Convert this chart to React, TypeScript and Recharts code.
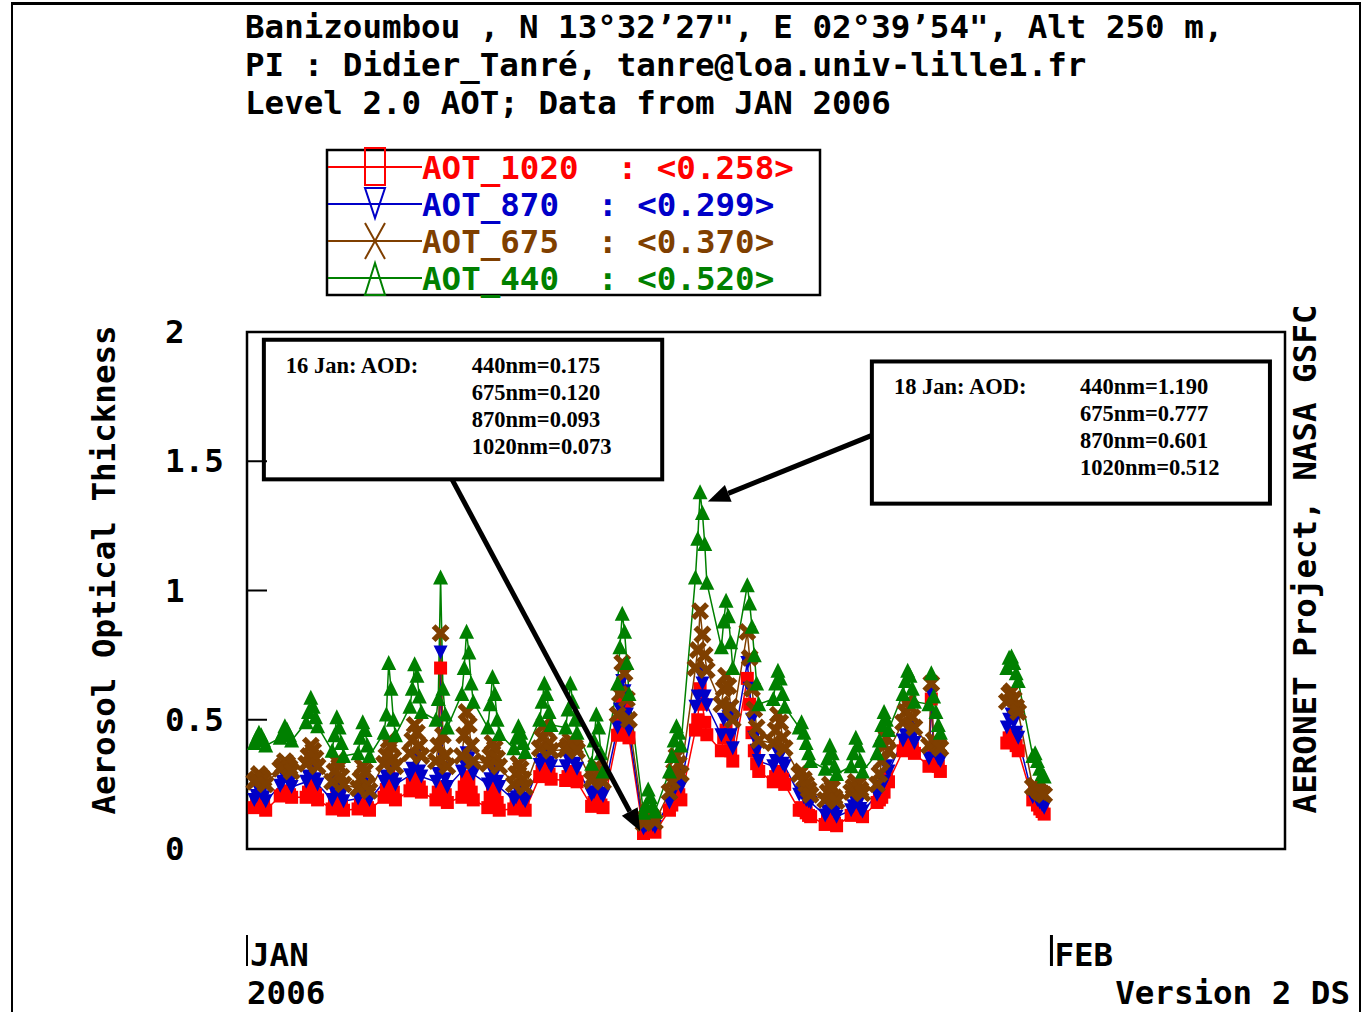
import React from 'react';
import { LineChart, Line, XAxis, YAxis, ReferenceArea, ReferenceLine } from 'recharts';

// Observation days in January 2006 (28 and 29 Jan have no level 2.0 data)
const DAYS = [1, 2, 3, 4, 5, 6, 7, 8, 9, 10, 11, 12, 13, 14, 15, 16, 17, 18, 19, 20, 21, 22, 23, 24, 25, 26, 27, 30, 31];
// time of each measurement as a fraction of the day
const HOURS = [0.28, 0.37, 0.46, 0.55, 0.64, 0.72];

const AOT_440 = [
  [0.41, 0.43, 0.45, 0.44, 0.42, 0.40],
  [0.43, 0.45, 0.475, 0.46, 0.44, 0.42],
  [0.49, 0.53, 0.585, 0.55, 0.51, 0.475],
  [0.38, 0.44, 0.51, 0.47, 0.41, 0.36],
  [0.37, 0.43, 0.49, 0.46, 0.40, 0.36],
  [0.45, 0.52, 0.72, 0.62, 0.50, 0.44],
  [0.55, 0.62, 0.715, 0.67, 0.59, 0.53],
  [0.50, 0.58, 1.05, 0.62, 0.52, 0.47],
  [0.60, 0.70, 0.84, 0.76, 0.64, 0.57],
  [0.47, 0.56, 0.665, 0.60, 0.50, 0.445],
  [0.39, 0.43, 0.475, 0.45, 0.41, 0.375],
  [0.50, 0.57, 0.64, 0.60, 0.53, 0.48],
  [0.47, 0.54, 0.64, 0.57, 0.50, 0.45],
  [0.33, 0.42, 0.52, 0.47, 0.37, 0.30],
  [0.64, 0.78, 0.91, 0.84, 0.72, 0.60],
  [0.14, 0.17, 0.23, 0.20, 0.165, 0.145],
  [0.30, 0.36, 0.42, 0.475, 0.45, 0.40],
  [1.05, 1.20, 1.38, 1.30, 1.18, 1.03],
  [0.78, 0.88, 0.96, 0.90, 0.80, 0.70],
  [1.02, 0.95, 0.86, 0.75, 0.64, 0.56],
  [0.58, 0.64, 0.69, 0.66, 0.60, 0.55],
  [0.47, 0.49, 0.45, 0.41, 0.37, 0.34],
  [0.31, 0.35, 0.40, 0.37, 0.32, 0.29],
  [0.32, 0.37, 0.43, 0.40, 0.34, 0.30],
  [0.37, 0.42, 0.48, 0.53, 0.50, 0.46],
  [0.60, 0.65, 0.69, 0.67, 0.62, 0.57],
  [0.56, 0.68, 0.59, 0.53, 0.48, 0.45],
  [0.70, 0.74, 0.745, 0.72, 0.68, 0.65],
  [0.36, 0.37, 0.34, 0.31, 0.29, 0.28],
];

const AOT_675 = [
  [0.26, 0.27, 0.29, 0.28, 0.27, 0.25],
  [0.31, 0.32, 0.34, 0.33, 0.315, 0.30],
  [0.33, 0.36, 0.40, 0.38, 0.35, 0.32],
  [0.26, 0.30, 0.34, 0.32, 0.28, 0.25],
  [0.235, 0.27, 0.32, 0.30, 0.25, 0.225],
  [0.33, 0.36, 0.42, 0.40, 0.35, 0.32],
  [0.37, 0.42, 0.48, 0.45, 0.40, 0.36],
  [0.34, 0.40, 0.835, 0.44, 0.36, 0.32],
  [0.36, 0.44, 0.53, 0.48, 0.40, 0.34],
  [0.33, 0.36, 0.41, 0.39, 0.35, 0.32],
  [0.25, 0.29, 0.33, 0.31, 0.27, 0.24],
  [0.39, 0.43, 0.48, 0.46, 0.41, 0.38],
  [0.385, 0.40, 0.42, 0.41, 0.395, 0.38],
  [0.265, 0.28, 0.32, 0.30, 0.27, 0.26],
  [0.52, 0.60, 0.72, 0.68, 0.58, 0.50],
  [0.10, 0.12, 0.145, 0.13, 0.12, 0.105],
  [0.22, 0.26, 0.30, 0.36, 0.33, 0.29],
  [0.70, 0.77, 0.92, 0.83, 0.75, 0.692],
  [0.56, 0.62, 0.67, 0.63, 0.55, 0.50],
  [0.84, 0.74, 0.62, 0.54, 0.47, 0.42],
  [0.41, 0.46, 0.52, 0.49, 0.43, 0.39],
  [0.29, 0.30, 0.27, 0.25, 0.23, 0.21],
  [0.19, 0.22, 0.25, 0.235, 0.20, 0.185],
  [0.22, 0.24, 0.26, 0.25, 0.23, 0.215],
  [0.25, 0.29, 0.34, 0.40, 0.43, 0.38],
  [0.49, 0.53, 0.57, 0.55, 0.51, 0.47],
  [0.40, 0.64, 0.42, 0.41, 0.40, 0.39],
  [0.57, 0.60, 0.61, 0.58, 0.55, 0.53],
  [0.24, 0.245, 0.23, 0.22, 0.215, 0.21],
];

const AOT_870 = [
  [0.19, 0.205, 0.225, 0.215, 0.20, 0.185],
  [0.245, 0.26, 0.28, 0.27, 0.255, 0.24],
  [0.26, 0.28, 0.32, 0.30, 0.27, 0.25],
  [0.19, 0.22, 0.26, 0.24, 0.21, 0.185],
  [0.195, 0.215, 0.25, 0.235, 0.205, 0.19],
  [0.26, 0.28, 0.33, 0.31, 0.27, 0.25],
  [0.285, 0.31, 0.36, 0.34, 0.30, 0.28],
  [0.26, 0.29, 0.76, 0.31, 0.27, 0.24],
  [0.30, 0.33, 0.37, 0.35, 0.31, 0.29],
  [0.25, 0.27, 0.30, 0.29, 0.26, 0.24],
  [0.19, 0.20, 0.22, 0.215, 0.195, 0.185],
  [0.325, 0.345, 0.37, 0.36, 0.335, 0.32],
  [0.32, 0.35, 0.39, 0.37, 0.33, 0.31],
  [0.21, 0.22, 0.245, 0.235, 0.215, 0.205],
  [0.47, 0.54, 0.65, 0.61, 0.52, 0.46],
  [0.08, 0.09, 0.11, 0.10, 0.093, 0.085],
  [0.18, 0.21, 0.25, 0.29, 0.27, 0.24],
  [0.55, 0.59, 0.68, 0.64, 0.59, 0.556],
  [0.44, 0.50, 0.54, 0.51, 0.44, 0.39],
  [0.72, 0.62, 0.50, 0.43, 0.38, 0.34],
  [0.32, 0.34, 0.37, 0.36, 0.33, 0.32],
  [0.21, 0.22, 0.20, 0.19, 0.185, 0.18],
  [0.13, 0.145, 0.165, 0.155, 0.14, 0.125],
  [0.15, 0.165, 0.18, 0.175, 0.155, 0.145],
  [0.21, 0.225, 0.24, 0.26, 0.32, 0.30],
  [0.42, 0.44, 0.47, 0.46, 0.43, 0.41],
  [0.35, 0.60, 0.38, 0.37, 0.35, 0.34],
  [0.47, 0.50, 0.52, 0.49, 0.45, 0.43],
  [0.20, 0.21, 0.19, 0.18, 0.17, 0.16],
];

const AOT_1020 = [
  [0.16, 0.175, 0.20, 0.19, 0.17, 0.15],
  [0.205, 0.21, 0.225, 0.22, 0.21, 0.20],
  [0.20, 0.22, 0.25, 0.235, 0.21, 0.19],
  [0.155, 0.175, 0.20, 0.19, 0.165, 0.15],
  [0.155, 0.17, 0.19, 0.18, 0.16, 0.15],
  [0.20, 0.23, 0.28, 0.26, 0.22, 0.19],
  [0.225, 0.25, 0.28, 0.27, 0.24, 0.22],
  [0.19, 0.22, 0.70, 0.24, 0.21, 0.18],
  [0.20, 0.24, 0.28, 0.26, 0.22, 0.19],
  [0.16, 0.20, 0.25, 0.23, 0.18, 0.15],
  [0.155, 0.17, 0.19, 0.18, 0.165, 0.15],
  [0.28, 0.30, 0.32, 0.31, 0.29, 0.27],
  [0.265, 0.28, 0.30, 0.29, 0.275, 0.26],
  [0.165, 0.18, 0.20, 0.19, 0.17, 0.16],
  [0.44, 0.49, 0.58, 0.55, 0.47, 0.43],
  [0.06, 0.07, 0.09, 0.08, 0.073, 0.065],
  [0.15, 0.17, 0.20, 0.225, 0.21, 0.19],
  [0.46, 0.50, 0.62, 0.56, 0.49, 0.442],
  [0.38, 0.43, 0.46, 0.44, 0.38, 0.34],
  [0.66, 0.56, 0.45, 0.38, 0.33, 0.30],
  [0.26, 0.28, 0.30, 0.29, 0.27, 0.25],
  [0.15, 0.16, 0.15, 0.14, 0.13, 0.125],
  [0.095, 0.11, 0.125, 0.12, 0.10, 0.09],
  [0.13, 0.145, 0.16, 0.155, 0.135, 0.125],
  [0.18, 0.19, 0.20, 0.22, 0.28, 0.26],
  [0.38, 0.40, 0.43, 0.42, 0.39, 0.37],
  [0.32, 0.58, 0.36, 0.34, 0.32, 0.30],
  [0.41, 0.43, 0.445, 0.42, 0.40, 0.38],
  [0.19, 0.20, 0.17, 0.155, 0.145, 0.135],
];

const Y_TICKS = [0, 0.5, 1, 1.5, 2];
const MONTH_TICKS = [0, 31];
const MONTH_LABELS = ['JAN', 'FEB'];
const YEAR_LABEL = '2006';

const TITLE_LINES = [
  'Banizoumbou , N 13°32’27", E 02°39’54", Alt 250 m,',
  'PI : Didier_Tanré, tanre@loa.univ-lille1.fr',
  'Level 2.0 AOT; Data from JAN 2006',
];

const SERIES = [
  { name: 'AOT_1020', color: '#ff0000', values: AOT_1020, mean: '0.258', marker: 'square' },
  { name: 'AOT_870', color: '#0000c8', values: AOT_870, mean: '0.299', marker: 'tridown' },
  { name: 'AOT_675', color: '#7f3f00', values: AOT_675, mean: '0.370', marker: 'cross' },
  { name: 'AOT_440', color: '#008000', values: AOT_440, mean: '0.520', marker: 'triup' },
];

// daily means written in the call-out boxes
const NOTES = [
  { title: '16 Jan: AOD:', lines: ['440nm=0.175', '675nm=0.120', '870nm=0.093', '1020nm=0.073'], box: [0.65, 16.0, 1.97, 1.43], arrow: [7.9, 1.43, 15.15, 0.07] },
  { title: '18 Jan: AOD:', lines: ['440nm=1.190', '675nm=0.777', '870nm=0.601', '1020nm=0.512'], box: [24.08, 39.42, 1.886, 1.336], arrow: [24.08, 1.6, 17.76, 1.344] },
];

const MONO = '"DejaVu Sans Mono", "Liberation Mono", monospace';
const SERIF = '"Liberation Serif", "Times New Roman", serif';
const FS = 32.5;

const buildPoints = (values: number[][]) => {
  const pts: { t: number; v: number | null }[] = [];
  DAYS.forEach((day, i) => {
    if (i > 0 && day - DAYS[i - 1] > 1) pts.push({ t: day - 1, v: null });
    HOURS.forEach((h, j) => pts.push({ t: day - 1 + h, v: values[i][j] }));
  });
  return pts;
};

const markerShape = (marker: string, cx: number, cy: number, color: string, key?: string) => {
  switch (marker) {
    case 'square':
      return <rect key={key} x={cx - 6.5} y={cy - 6.5} width={13} height={13} fill={color} />;
    case 'tridown':
      return <polygon key={key} points={`${cx - 7},${cy - 7} ${cx + 7},${cy - 7} ${cx},${cy + 7}`} fill={color} />;
    case 'cross':
      return (
        <path key={key} d={`M${cx - 7},${cy - 7}L${cx + 7},${cy + 7}M${cx + 7},${cy - 7}L${cx - 7},${cy + 7}`} stroke={color} strokeWidth={5.5} />
      );
    default:
      return <polygon key={key} points={`${cx},${cy - 8} ${cx + 7.5},${cy + 7} ${cx - 7.5},${cy + 7}`} fill={color} />;
  }
};

const ValueTick = (props: any) => {
  const { x, y, payload } = props;
  const v = payload.value;
  return (
    <g>
      {v > 0 && v < 2 && <line x1={x} x2={x + 20} y1={y} y2={y} stroke="#000" strokeWidth={2} />}
      <text x={x - 82} y={y + 11} fontFamily={MONO} fontWeight="bold" fontSize={FS} fill="#000">
        {String(v)}
      </text>
    </g>
  );
};

const MonthTick = (props: any) => {
  const { x, y, payload } = props;
  const i = MONTH_TICKS.indexOf(payload.value);
  return (
    <g>
      <line x1={x} x2={x} y1={y + 86} y2={y + 117} stroke="#000" strokeWidth={i === 0 ? 2 : 3} />
      <text x={x + 3} y={y + 117} fontFamily={MONO} fontWeight="bold" fontSize={FS} fill="#000">
        {MONTH_LABELS[i]}
      </text>
      {i === 0 && (
        <text x={x} y={y + 155} fontFamily={MONO} fontWeight="bold" fontSize={FS} fill="#000">
          {YEAR_LABEL}
        </text>
      )}
    </g>
  );
};

const noteBox = (note: typeof NOTES[number]) => (props: any) => {
  const { x, y, width, height } = props;
  return (
    <g>
      <rect x={x} y={y} width={width} height={height} fill="#fff" stroke="#000" strokeWidth={4} />
      <text x={x + 22} y={y + 33} fontFamily={SERIF} fontWeight="bold" fontSize={22.5} fill="#000">
        {note.title}
      </text>
      {note.lines.map((l, i) => (
        <text key={l} x={x + 208} y={y + 33 + i * 27} fontFamily={SERIF} fontWeight="bold" fontSize={22.5} fill="#000">
          {l}
        </text>
      ))}
    </g>
  );
};

const Arrow = (props: any) => {
  const { x1, y1, x2, y2 } = props;
  const a = Math.atan2(y2 - y1, x2 - x1);
  const len = 22;
  const w = 9;
  const bx = x2 - len * Math.cos(a);
  const by = y2 - len * Math.sin(a);
  const px = -Math.sin(a) * w;
  const py = Math.cos(a) * w;
  return (
    <g>
      <line x1={x1} y1={y1} x2={bx} y2={by} stroke="#000" strokeWidth={5} />
      <polygon points={`${x2},${y2} ${bx + px},${by + py} ${bx - px},${by - py}`} fill="#000" />
    </g>
  );
};

const LegendBox = () => (
  <g>
    <rect x={327} y={150} width={493} height={145} fill="none" stroke="#000" strokeWidth={2.5} />
    {SERIES.map((s, i) => {
      const cy = 167 + i * 37;
      const cx = 375;
      let mk;
      if (s.marker === 'square') mk = <rect x={cx - 10} y={cy - 19} width={20} height={37} fill="none" stroke={s.color} strokeWidth={2} />;
      else if (s.marker === 'tridown') mk = <polygon points={`${cx - 10},${cy - 16} ${cx + 10},${cy - 16} ${cx},${cy + 14}`} fill="none" stroke={s.color} strokeWidth={2} />;
      else if (s.marker === 'cross')
        mk = <path d={`M${cx - 10},${cy - 18}L${cx + 10},${cy + 18}M${cx + 10},${cy - 18}L${cx - 10},${cy + 18}`} stroke={s.color} strokeWidth={2} />;
      else mk = <polygon points={`${cx},${cy - 15} ${cx + 10},${cy + 17} ${cx - 10},${cy + 17}`} fill="none" stroke={s.color} strokeWidth={2} />;
      return (
        <g key={s.name}>
          <line x1={328} x2={422} y1={cy} y2={cy} stroke={s.color} strokeWidth={2} />
          {mk}
          <text x={422} y={cy + 12} fontFamily={MONO} fontWeight="bold" fontSize={FS} fill={s.color} xmlSpace="preserve" style={{ whiteSpace: 'pre' }}>
            {`${s.name}  : <${s.mean}>`}
          </text>
        </g>
      );
    })}
  </g>
);

export default function App() {
  return (
    <div style={{ position: 'absolute', left: 0, top: 0, width: 1362, height: 1012, background: '#fff', overflow: 'hidden' }}>
      <div style={{ position: 'absolute', left: 11, top: 2, width: 1346, height: 1030, borderTop: '3px solid #000', borderLeft: '2px solid #000', borderRight: '2px solid #000' }} />
      <div style={{ position: 'absolute', left: 0, top: 0 }}>
        <LineChart width={1362} height={1012} margin={{ top: 332, right: 77, bottom: 0, left: 165 }}>
          <XAxis
            type="number"
            dataKey="t"
            domain={[0, 40]}
            ticks={MONTH_TICKS}
            interval={0}
            height={163}
            axisLine={false}
            tickLine={false}
            tickSize={0}
            tickMargin={0}
            tick={<MonthTick />}
          />
          <YAxis
            type="number"
            domain={[0, 2]}
            ticks={Y_TICKS}
            interval={0}
            width={82}
            axisLine={false}
            tickLine={false}
            tickSize={0}
            tickMargin={0}
            tick={<ValueTick />}
          />
          <ReferenceArea x1={0} x2={40} y1={0} y2={2} fill="none" stroke="#000" strokeWidth={2.5} fillOpacity={0} />
          {SERIES.map((s) => (
            <Line
              key={s.name}
              data={buildPoints(s.values)}
              dataKey="v"
              type="linear"
              stroke={s.color}
              strokeWidth={1.5}
              connectNulls={false}
              isAnimationActive={false}
              activeDot={false}
              dot={(p: any) => (p.cx == null || p.cy == null || p.value == null ? <g key={`${s.name}-${p.index}`} /> : markerShape(s.marker, p.cx, p.cy, s.color, `${s.name}-${p.index}`))}
            />
          ))}
          {NOTES.map((n) => (
            <ReferenceArea key={n.title} x1={n.box[0]} x2={n.box[1]} y1={n.box[3]} y2={n.box[2]} shape={noteBox(n)} />
          ))}
          {NOTES.map((n) => (
            <ReferenceLine
              key={`arrow-${n.title}`}
              segment={[
                { x: n.arrow[0], y: n.arrow[1] },
                { x: n.arrow[2], y: n.arrow[3] },
              ]}
              shape={Arrow}
              zIndex={2500}
            />
          ))}
        </LineChart>
      </div>
      <svg width={1362} height={1012} style={{ position: 'absolute', left: 0, top: 0, pointerEvents: 'none' }}>
        {TITLE_LINES.map((l, i) => (
          <text key={l} x={245} y={38 + i * 38} fontFamily={MONO} fontWeight="bold" fontSize={FS} fill="#000" xmlSpace="preserve" style={{ whiteSpace: 'pre' }}>
            {l}
          </text>
        ))}
        <LegendBox />
        <text x={115} y={570} transform="rotate(-90 115 570)" textAnchor="middle" fontFamily={MONO} fontWeight="bold" fontSize={FS} fill="#000">
          Aerosol Optical Thickness
        </text>
        <text x={1316} y={559} transform="rotate(-90 1316 559)" textAnchor="middle" fontFamily={MONO} fontWeight="bold" fontSize={FS} fill="#000">
          AERONET Project, NASA GSFC
        </text>
        <text x={1350} y={1004} textAnchor="end" fontFamily={MONO} fontWeight="bold" fontSize={FS} fill="#000">
          Version 2 DS
        </text>
      </svg>
    </div>
  );
}
